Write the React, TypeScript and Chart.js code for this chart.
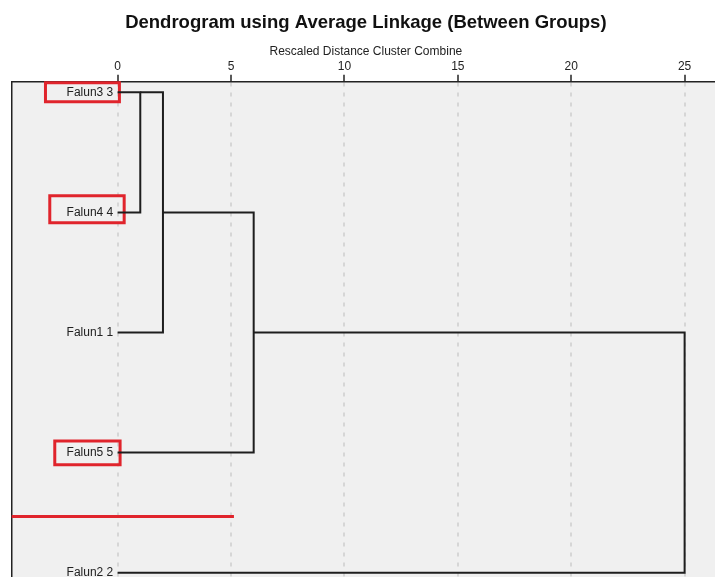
import React, { useEffect, useRef } from "react";
import { Chart, registerables } from "chart.js";

Chart.register(...registerables);

// Leaves (top to bottom) and merge structure
const leafLabels = ["Falun3 3", "Falun4 4", "Falun1 1", "Falun5 5", "Falun2 2"];
// node ids: 0..4 are leaves, 5.. are merged clusters in order
const mergeLeft = [0, 5, 6, 7];
const mergeRight = [1, 2, 3, 4];
const mergeDistance = [1, 2, 6, 25];
const mergeRow = [0, 1, 2, 3];
const distanceTicks = [0, 5, 10, 15, 20, 25];

// hand-drawn red highlights (data units)
const boxX0 = [-3.18, -2.99, -2.77];
const boxX1 = [0.08, 0.29, 0.11];
const boxY0 = [-0.08, 0.861, 2.904];
const boxY1 = [0.078, 1.086, 3.101];
const markLineX = [-4.67, 5.13];
const markLineY = [3.533, 3.533];

const FONT = "'Liberation Sans', Arial, Helvetica, sans-serif";

function nodeHeight(id: number): number {
  return id < leafLabels.length ? 0 : mergeDistance[id - leafLabels.length];
}
function nodeRow(id: number): number {
  return id < leafLabels.length ? id : mergeRow[id - leafLabels.length];
}

export default function App() {
  const ref = useRef<HTMLCanvasElement>(null);

  useEffect(() => {
    if (!ref.current) return;
    const datasets: any[] = [];
    mergeDistance.forEach((d, k) => {
      const a = mergeLeft[k];
      const b = mergeRight[k];
      datasets.push({
        data: [
          { x: nodeHeight(a), y: nodeRow(a) },
          { x: d, y: nodeRow(a) },
          { x: d, y: nodeRow(b) },
          { x: nodeHeight(b), y: nodeRow(b) },
        ],
        showLine: true,
        borderColor: "#1e1e1e",
        borderWidth: 2,
        pointRadius: 0,
        borderJoinStyle: "miter",
        clip: false,
      });
    });
    boxX0.forEach((x0, i) => {
      const x1 = boxX1[i];
      const y0 = boxY0[i];
      const y1 = boxY1[i];
      datasets.push({
        data: [
          { x: x0, y: y0 },
          { x: x1, y: y0 },
          { x: x1, y: y1 },
          { x: x0, y: y1 },
          { x: x0, y: y0 },
          { x: x1, y: y0 },
        ],
        showLine: true,
        borderColor: "#e0242c",
        borderWidth: 3,
        pointRadius: 0,
        borderJoinStyle: "miter",
        clip: false,
      });
    });
    datasets.push({
      data: markLineX.map((x, i) => ({ x, y: markLineY[i] })),
      showLine: true,
      borderColor: "#e0242c",
      borderWidth: 3,
      pointRadius: 0,
      clip: false,
    });

    const bgPlugin = {
      id: "plotBg",
      beforeDraw(chart: any) {
        const { ctx, chartArea } = chart;
        ctx.save();
        ctx.fillStyle = "#f0f0f0";
        ctx.fillRect(chartArea.left, chartArea.top, chartArea.right - chartArea.left, chartArea.bottom - chartArea.top);
        ctx.restore();
      },
    };
    const leafPlugin = {
      id: "leafLabels",
      afterDatasetsDraw(chart: any) {
        const { ctx } = chart;
        const xs = chart.scales.x;
        const ys = chart.scales.y;
        ctx.save();
        ctx.font = `12px ${FONT}`;
        ctx.fillStyle = "#222";
        ctx.textAlign = "right";
        ctx.textBaseline = "middle";
        leafLabels.forEach((lab, i) => {
          ctx.fillText(lab, xs.getPixelForValue(0) - 4.3, ys.getPixelForValue(i));
        });
        ctx.restore();
      },
    };

    const chart = new Chart(ref.current, {
      type: "scatter",
      data: { datasets },
      options: {
        animation: false,
        responsive: false,
        events: [],
        layout: { padding: { left: 11.7, right: 10, top: 0, bottom: 0 } },
        plugins: {
          legend: { display: false },
          tooltip: { enabled: false },
          title: {
            display: true,
            text: "Dendrogram using Average Linkage (Between Groups)",
            color: "#111",
            font: { family: FONT, size: 18.5, weight: "bold", lineHeight: 1.2 },
            padding: { top: 12, bottom: 11.6 },
          },
        },
        scales: {
          x: {
            type: "linear",
            position: "top",
            min: -4.669,
            max: 26.56,
            afterBuildTicks: (axis: any) => {
              axis.ticks = distanceTicks.map((v) => ({ value: v }));
            },
            ticks: {
              color: "#222",
              padding: 1.3,
              maxRotation: 0,
              autoSkip: false,
              font: { family: FONT, size: 12, lineHeight: 1.2 },
            },
            grid: {
              color: "#d6d6d6",
              lineWidth: 2,
              tickColor: "#222",
              tickLength: 7,
              tickWidth: 1.5,
            },
            border: { display: true, color: "#222", width: 1.5, dash: [4, 6] },
            title: {
              display: true,
              text: "Rescaled Distance Cluster Combine",
              color: "#222",
              padding: 0,
              font: { family: FONT, size: 12, lineHeight: 1.0 },
            },
          },
          y: {
            type: "linear",
            position: "left",
            reverse: true,
            min: -0.088,
            max: 4.036,
            ticks: { display: false },
            grid: { display: false, drawTicks: false },
            border: { display: true, color: "#222", width: 1.5 },
          },
        },
      },
      plugins: [bgPlugin, leafPlugin],
    });
    return () => chart.destroy();
  }, []);

  return (
    <div style={{ position: "fixed", left: 0, top: 0, width: 715, height: 577, overflow: "hidden", background: "#fff" }}>
      <canvas ref={ref} width={730} height={577} style={{ display: "block", width: 730, height: 577 }} />
    </div>
  );
}
